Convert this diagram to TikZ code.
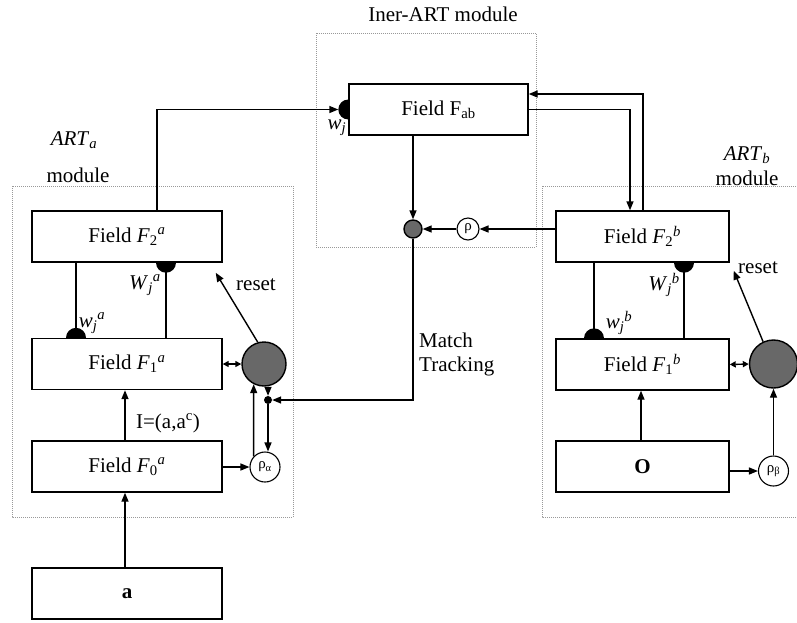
\documentclass[tikz,border=0pt]{standalone}
\usepackage{fontspec}
\setmainfont{Liberation Serif}
\usetikzlibrary{arrows.meta}
\definecolor{cgray}{RGB}{104,104,104}
\begin{document}
\begin{tikzpicture}[x=1pt,y=-1pt,
  box/.style={draw, line width=1.4pt, minimum width=190pt, minimum height=51pt, inner sep=0pt, font=\fontsize{21}{25}\selectfont},
  modbox/.style={draw=gray!80, line width=0.7pt, dash pattern=on 1pt off 1pt},
  arr/.style={line width=1.4pt, -{Triangle[length=9pt,width=7pt]}},
  ln/.style={line width=1.4pt},
  dbl/.style={line width=1.4pt, {Triangle[length=6pt,width=6pt]}-{Triangle[length=6pt,width=6pt]}},
  graycirc/.style={circle, draw, line width=1.4pt, fill=cgray, inner sep=0pt},
  smallc/.style={circle, draw, line width=1.1pt, fill=white, inner sep=0pt, font=\fontsize{15}{17}\selectfont},
  lbl/.style={font=\fontsize{21}{24}\selectfont, inner sep=0pt}
]
\useasboundingbox (0,0) rectangle (797,622);

% module frames
\draw[modbox] (316,33) rectangle (536,247);
\draw[modbox] (12,186) rectangle (293,517);
\draw[modbox] (542,186) rectangle (800,517);

% boxes
\node[box, minimum width=179pt] (Fab) at (438.5,109.5) {Field F\textsubscript{ab}};
\node[box] (F2a) at (127,236.5) {Field \textit{F}\textsubscript{2}\textsuperscript{\textit{a}}};
\node[box] (F1a) at (127,364) {Field \textit{F}\textsubscript{1}\textsuperscript{\textit{a}}};
\node[box] (F0a) at (127,466.5) {Field \textit{F}\textsubscript{0}\textsuperscript{\textit{a}}};
\node[box] (ina) at (127,593.5) {\textbf{a}};
\node[box, minimum width=173pt] (F2b) at (642.5,236.5) {Field \textit{F}\textsubscript{2}\textsuperscript{\textit{b}}};
\node[box, minimum width=173pt] (F1b) at (642.5,364.5) {Field \textit{F}\textsubscript{1}\textsuperscript{\textit{b}}};
\node[box, minimum width=173pt] (O) at (642.5,466.5) {\textbf{O}};

% circles
\node[graycirc, minimum size=44pt] (ra) at (264,364) {};
\node[graycirc, minimum size=48pt] (rb) at (773.5,364) {};
\node[graycirc, minimum size=18pt] (gc) at (413,229) {};
\node[smallc, minimum size=22pt] (rho) at (468,229) {ρ};
\node[smallc, minimum size=30pt] (rhoa) at (265,467) {ρ\textsubscript{α}};
\node[smallc, minimum size=30pt] (rhob) at (773.5,471) {ρ\textsubscript{β}};
\node[circle, fill, minimum size=8pt, inner sep=0pt] (jd) at (268,400) {};

% synapse marks
\coordinate (sab) at ([xshift=-10pt]Fab.west);
\fill ([yshift=10pt]Fab.west) arc[start angle=90,end angle=270,radius=10pt] -- cycle;
\fill ([xshift=49pt]F2a.south) arc[start angle=0,end angle=-180,radius=10pt] -- cycle;
\fill ([xshift=-41pt]F1a.north) arc[start angle=0,end angle=180,radius=10pt] -- cycle;
\fill ([xshift=51.5pt]F2b.south) arc[start angle=0,end angle=-180,radius=10pt] -- cycle;
\fill ([xshift=-38.5pt]F1b.north) arc[start angle=0,end angle=180,radius=10pt] -- cycle;

% internal lines
\draw[ln] ([xshift=-51pt]F2a.south) -- ([xshift=-51pt]F1a.north);
\draw[ln] ([xshift=39pt]F1a.north) -- ([xshift=39pt]F2a.south);
\draw[ln] ([xshift=-48.5pt]F2b.south) -- ([xshift=-48.5pt]F1b.north);
\draw[ln] ([xshift=41.5pt]F1b.north) -- ([xshift=41.5pt]F2b.south);

% connectors between modules
\draw[arr] ([xshift=30pt]F2a.north) |- (sab);
\draw[arr] (Fab.south -| gc.north) -- (gc.north);
\draw[arr] (rho) -- (gc);
\draw[arr] (F2b.west |- rho) -- (rho);
\draw[arr] (Fab.east) -| ([xshift=-12.5pt]F2b.north);
\draw[arr] ([xshift=0.5pt]F2b.north) |- ([yshift=15.5pt]Fab.east);
\draw[arr] (gc.south) |- (jd.east);

% ART_a module connectors
\draw[arr] (ra.south -| jd) -- (jd.north);
\draw[arr] (jd.south) -- (jd |- rhoa.north);
\draw[arr] (rhoa.137) -- (ra.243);
\draw[arr] (F0a.east |- rhoa.west) -- (rhoa.west);
\draw[dbl] (F1a.east) -- (ra.west);
\draw[arr] (ra.106) -- ([xshift=-7pt,yshift=-10pt]F2a.south east);
\draw[arr] ([xshift=-2pt]F0a.north) -- ([xshift=-2pt]F1a.south);
\draw[arr] ([xshift=-2pt]ina.north) -- ([xshift=-2pt]F0a.south);

% ART_b module connectors
\draw[dbl] (F1b.east) -- (rb.west);
\draw[arr] (rb.115) -- ([xshift=4pt,yshift=-8pt]F2b.south east);
\draw[arr] ([xshift=-1.5pt]O.north) -- ([xshift=-1.5pt]F1b.south);
\draw[arr] (O.east |- rhob.west) -- (rhob.west);
\draw[arr] (rhob.north) -- (rb.south);

% labels
\node[lbl] (tinter) at (443,14) {Iner-ART module};
\node[lbl] (tarta) at (74,140) {\textit{ART}\textsubscript{\textit{a}}};
\node[lbl] (tmoda) at (78,175) {module};
\node[lbl] (tartb) at (747,155) {\textit{ART}\textsubscript{\textit{b}}};
\node[lbl] (tmodb) at (747,178) {module};
\node[lbl] (twj) at (337,128) {\textit{w}\textsubscript{\textit{j}}};
\node[lbl] (twa) at (92,323) {\textit{w}\textsubscript{\textit{j}}\textsuperscript{\textit{a}}};
\node[lbl] (tWa) at (145,285) {\textit{W}\textsubscript{\textit{j}}\textsuperscript{\textit{a}}};
\node[lbl] (twb) at (619,323) {\textit{w}\textsubscript{\textit{j}}\textsuperscript{\textit{b}}};
\node[lbl] (tWb) at (664,285) {\textit{W}\textsubscript{\textit{j}}\textsuperscript{\textit{b}}};
\node[lbl] (tresa) at (256,285) {reset};
\node[lbl] (tresb) at (758,268) {reset};
\node[lbl, align=left, anchor=west] (tmt) at (419,354) {Match\\Tracking};
\node[lbl] (tI) at (168,423) {I=(a,a\textsuperscript{c})};
\end{tikzpicture}
\end{document}
